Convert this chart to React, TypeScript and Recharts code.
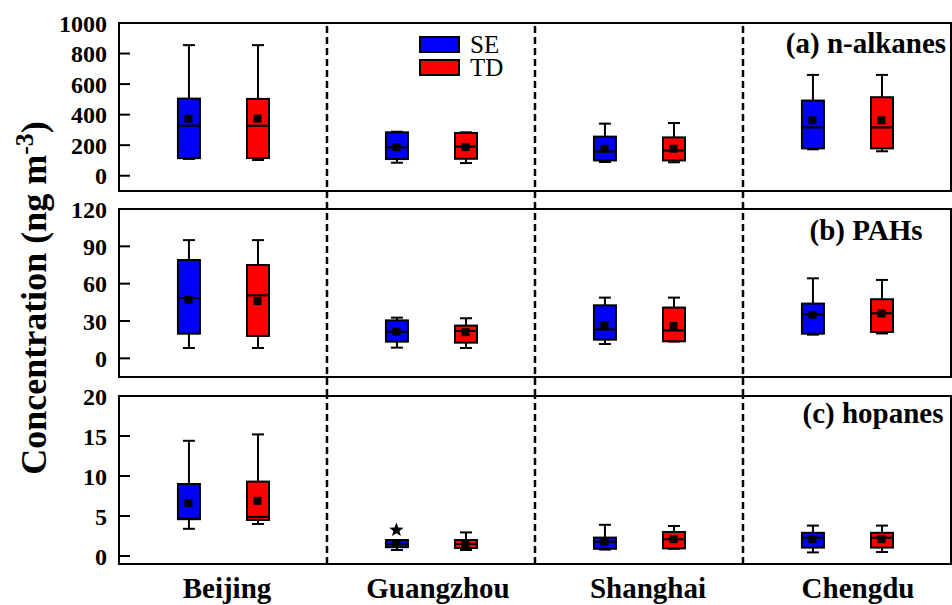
import React from 'react';
import {
  ComposedChart,
  Bar,
  Scatter,
  XAxis,
  YAxis,
  ReferenceArea,
  ReferenceLine,
  Legend,
} from 'recharts';

const CITIES = ['Beijing', 'Guangzhou', 'Shanghai', 'Chengdu'];
const SERIES = ['SE', 'TD'];
const COLORS: Record<string, string> = { SE: '#0000FF', TD: '#FF0000' };

// each city: [min, q1, median, q3, max, mean]
const alkanesSE = [
  [110, 115, 328, 505, 855, 374],
  [85, 109, 186, 284, 288, 186],
  [90, 100, 159, 256, 341, 177],
  [173, 179, 317, 492, 660, 363],
];
const alkanesTD = [
  [103, 116, 328, 503, 855, 374],
  [83, 111, 192, 280, 284, 187],
  [88, 100, 166, 251, 345, 177],
  [160, 179, 317, 514, 660, 363],
];
const pahsSE = [
  [8.3, 19.8, 48.5, 79, 95, 47],
  [8.6, 13.4, 21.4, 30.5, 32.7, 21.5],
  [11.5, 15, 23.3, 42.6, 48.8, 26.8],
  [19, 19.8, 35.4, 44, 64.3, 35],
];
const pahsTD = [
  [8.3, 18, 50.7, 75, 95, 46],
  [8.3, 12.6, 22, 26.3, 32.2, 21],
  [13.5, 13.7, 22.5, 40.8, 48.8, 26],
  [20, 21.2, 36.2, 47.5, 63, 36],
];
const hopanesSE = [
  [3.4, 4.6, 4.7, 9.0, 14.4, 6.6],
  [0.75, 1.1, 1.5, 2.0, 2.0, 1.5],
  [0.8, 0.9, 1.8, 2.3, 3.9, 1.8],
  [0.45, 1.05, 2.3, 2.9, 3.8, 2.1],
];
const hopanesTD = [
  [4.0, 4.5, 4.9, 9.3, 15.2, 6.9],
  [0.75, 1.0, 1.5, 2.0, 2.95, 1.5],
  [0.9, 0.95, 2.1, 3.0, 3.75, 2.1],
  [0.5, 1.05, 2.3, 2.9, 3.8, 2.1],
];
const hopanesOutliers = [{ city: 'Guangzhou', series: 'SE', value: 3.25 }];

const alkanesTicks = [0, 200, 400, 600, 800, 1000];
const pahsTicks = [0, 30, 60, 90, 120];
const hopanesTicks = [0, 5, 10, 15, 20];
const cityTicks = [0.5, 1.5, 2.5, 3.5];

const SERIES_OFFSET = 0.166;
const FONT = "'Liberation Serif', 'Times New Roman', serif";

const xOf = (cityIdx: number, s: string) =>
  cityIdx + 0.5 + (s === 'SE' ? -SERIES_OFFSET : SERIES_OFFSET);

function buildRows(se: number[][], td: number[][]) {
  const rows: any[] = [];
  [se, td].forEach((arr, k) => {
    const s = SERIES[k];
    arr.forEach((v, i) => {
      const [min, q1, med, q3, max, mean] = v;
      rows.push({
        x: xOf(i, s),
        series: s,
        mean,
        base: min,
        lw: q1 - min,
        bl: med - q1,
        bh: q3 - med,
        uw: max - q3,
      });
    });
  });
  return rows;
}

const alkanesRows = buildRows(alkanesSE, alkanesTD);
const pahsRows = buildRows(pahsSE, pahsTD);
const hopanesRows = buildRows(hopanesSE, hopanesTD);
const outlierRows = hopanesOutliers.map((o) => ({
  x: xOf(CITIES.indexOf(o.city), o.series),
  value: o.value,
}));

const span = (p: any) => {
  const top = Math.min(p.y, p.y + p.height);
  const bot = Math.max(p.y, p.y + p.height);
  return { top, bot, cx: p.x + p.width / 2 };
};

const WhiskerLow = (p: any) => {
  const { top, bot, cx } = span(p);
  return (
    <g>
      <line x1={cx} x2={cx} y1={top} y2={bot} stroke="#000" strokeWidth={2} />
      <line x1={cx - 6} x2={cx + 6} y1={bot} y2={bot} stroke="#000" strokeWidth={2} />
    </g>
  );
};
const WhiskerHigh = (p: any) => {
  const { top, bot, cx } = span(p);
  return (
    <g>
      <line x1={cx} x2={cx} y1={top} y2={bot} stroke="#000" strokeWidth={2} />
      <line x1={cx - 6} x2={cx + 6} y1={top} y2={top} stroke="#000" strokeWidth={2} />
    </g>
  );
};
const BoxPart = (p: any) => {
  const { top, bot } = span(p);
  return (
    <rect
      x={p.x}
      y={top}
      width={p.width}
      height={Math.max(bot - top, 0)}
      fill={COLORS[p.payload.series]}
      stroke="#000"
      strokeWidth={2}
    />
  );
};
const MeanMark = (p: any) => (
  <rect x={p.cx - 4} y={p.cy - 4} width={8} height={8} fill="#000" />
);
const StarMark = (p: any) => {
  const pts: string[] = [];
  for (let k = 0; k < 10; k++) {
    const r = k % 2 === 0 ? 7.5 : 3.2;
    const a = -Math.PI / 2 + (k * Math.PI) / 5;
    pts.push(`${p.cx + r * Math.cos(a)},${p.cy + r * Math.sin(a)}`);
  }
  return <polygon points={pts.join(' ')} fill="#000" />;
};

const PanelTitle = (p: any) => {
  const vb = p.viewBox || {};
  return (
    <text
      x={vb.x + vb.width - p.tx}
      y={vb.y + p.tb}
      textAnchor="middle"
      fontFamily={FONT}
      fontWeight="bold"
      fontSize={29}
      fill="#000"
    >
      {p.title}
    </text>
  );
};

const YTitle = () => {
  const cx = 46;
  const cy = 298;
  return (
    <text
      x={cx}
      y={cy}
      transform={`rotate(-90 ${cx} ${cy})`}
      textAnchor="middle"
      fontFamily={FONT}
      fontWeight="bold"
      fontSize={36}
      fill="#000"
    >
      Concentration (ng m
      <tspan dy={-13} fontSize={26}>
        -3
      </tspan>
      <tspan dy={13}>)</tspan>
    </text>
  );
};

const LegendBox = () => (
  <div style={{ fontFamily: FONT, fontSize: 25, color: '#000' }}>
    {SERIES.map((s) => (
      <div key={s} style={{ display: 'flex', alignItems: 'center', height: 23, lineHeight: '23px' }}>
        <span
          style={{
            display: 'inline-block',
            boxSizing: 'border-box',
            width: 41,
            height: 17,
            background: COLORS[s],
            border: '2px solid #000',
            marginRight: 10,
          }}
        />
        <span>{s}</span>
      </div>
    ))}
  </div>
);

const yTick = { fontFamily: FONT, fontWeight: 'bold', fontSize: 24, fill: '#000' };
const tickLineStyle = { stroke: '#000', strokeWidth: 2 };

function renderBoxes() {
  return [
    <Bar key="base" dataKey="base" stackId="b" fill="none" stroke="none" barSize={22} isAnimationActive={false} />,
    <Bar key="lw" dataKey="lw" stackId="b" shape={WhiskerLow} barSize={22} isAnimationActive={false} />,
    <Bar key="bl" dataKey="bl" stackId="b" shape={BoxPart} barSize={22} isAnimationActive={false} />,
    <Bar key="bh" dataKey="bh" stackId="b" shape={BoxPart} barSize={22} isAnimationActive={false} />,
    <Bar key="uw" dataKey="uw" stackId="b" shape={WhiskerHigh} barSize={22} isAnimationActive={false} />,
    <Scatter key="mean" dataKey="mean" shape={MeanMark} isAnimationActive={false} />,
  ];
}

function separators() {
  return [1, 2, 3].map((v) => (
    <ReferenceLine key={v} x={v} stroke="#000" strokeWidth={2.5} strokeDasharray="7 4" />
  ));
}

const XLABEL_DX = [4, 7, 9, 11];
const CityTick = (p: any) => {
  const idx = cityTicks.indexOf(p.payload.value);
  return (
    <text
      x={p.x + (XLABEL_DX[idx] || 0)}
      y={p.y}
      dy="0.71em"
      textAnchor="middle"
      fontFamily={FONT}
      fontWeight="bold"
      fontSize={29}
      fill="#000"
    >
      {CITIES[idx]}
    </text>
  );
};

export default function App() {
  return (
    <div style={{ position: 'absolute', left: 0, top: 0, width: 952, height: 605, background: '#fff' }}>
      <div style={{ position: 'absolute', left: 0, top: 0 }}>
        <ComposedChart width={952} height={209} data={alkanesRows} margin={{ top: 23, right: 1, bottom: 0, left: 0 }}>
          <XAxis type="number" dataKey="x" domain={[0, 4]} hide allowDataOverflow />
          <YAxis
            type="number"
            domain={[-217.9, 1000]}
            ticks={alkanesTicks}
            allowDataOverflow
            interval={0}
            width={119}
            axisLine={false}
            tickSize={-11}
            tickMargin={23}
            tickLine={tickLineStyle}
            tick={yTick}
          />
          {separators()}
          <ReferenceArea
            x1={0}
            x2={4}
            y1={-100}
            y2={1000}
            fill="none"
            stroke="#000"
            strokeWidth={2}
            label={<PanelTitle title="(a) n-alkanes" tx={85} tb={30} />}
          />
          {renderBoxes()}
          <Legend
            layout="vertical"
            align="center"
            verticalAlign="middle"
            content={() => <LegendBox />}
            wrapperStyle={{ left: 419, top: 32.5, width: 'auto' }}
          />
        </ComposedChart>
      </div>
      <div style={{ position: 'absolute', left: 0, top: 0 }}>
        <ComposedChart width={952} height={396} data={pahsRows} margin={{ top: 209, right: 1, bottom: 0, left: 0 }}>
          <XAxis type="number" dataKey="x" domain={[0, 4]} hide allowDataOverflow />
          <YAxis
            type="number"
            domain={[-30.27, 120]}
            ticks={pahsTicks}
            allowDataOverflow
            interval={0}
            width={119}
            axisLine={false}
            tickSize={-11}
            tickMargin={23}
            tickLine={tickLineStyle}
            tick={yTick}
          />
          {separators()}
          <ReferenceArea
            x1={0}
            x2={4}
            y1={-15}
            y2={120}
            fill="none"
            stroke="#000"
            strokeWidth={2}
            label={<PanelTitle title="(b) PAHs" tx={85} tb={31} />}
          />
          {renderBoxes()}
        </ComposedChart>
      </div>
      <div style={{ position: 'absolute', left: 0, top: 0 }}>
        <ComposedChart width={952} height={605} data={hopanesRows} margin={{ top: 396, right: 1, bottom: 0, left: 0 }}>
          <XAxis
            type="number"
            dataKey="x"
            domain={[0, 4]}
            ticks={cityTicks}
            interval={0}
            allowDataOverflow
            height={41}
            axisLine={false}
            tickLine={false}
            tickSize={0}
            tickMargin={13}
            tick={<CityTick />}
          />
          <YAxis
            type="number"
            domain={[-1, 20]}
            ticks={hopanesTicks}
            allowDataOverflow
            interval={0}
            width={119}
            axisLine={false}
            tickSize={-11}
            tickMargin={23}
            tickLine={tickLineStyle}
            tick={yTick}
            label={(props: any) => <YTitle {...props} />}
          />
          {separators()}
          <ReferenceArea
            x1={0}
            x2={4}
            y1={-1}
            y2={20}
            fill="none"
            stroke="#000"
            strokeWidth={2}
            label={<PanelTitle title="(c) hopanes" tx={78} tb={27} />}
          />
          {renderBoxes()}
          <Scatter data={outlierRows} dataKey="value" shape={StarMark} isAnimationActive={false} />
        </ComposedChart>
      </div>
    </div>
  );
}
